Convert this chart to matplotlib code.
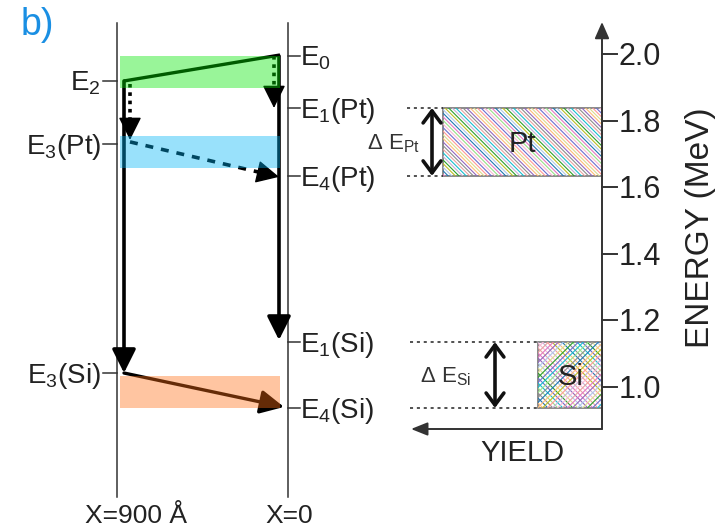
import matplotlib
matplotlib.use('Agg')
import matplotlib.pyplot as plt
from matplotlib.patches import Rectangle, FancyArrowPatch
import numpy as np

plt.rcParams['font.family'] = ['Liberation Sans', 'DejaVu Sans']
plt.rcParams['mathtext.fontset'] = 'custom'
plt.rcParams['mathtext.rm'] = 'Liberation Sans'
plt.rcParams['mathtext.it'] = 'Liberation Sans:italic'
plt.rcParams['mathtext.default'] = 'regular'

# ---------------- data (MeV) ----------------
energy_ticks = [1.0, 1.2, 1.4, 1.6, 1.8, 2.0]
tick_labels = ['1.0', '1.2', '1.4', '1.6', '1.8', '2.0']
E0 = 1.994
E2 = 1.919
E1_Pt = 1.838
E3_Pt = 1.730
E4_Pt = 1.634
E1_Si = 1.135
E3_Si = 1.042
E4_Si = 0.937
left_levels = [E2, E3_Pt, E3_Si]
left_names = ['E$_2$', 'E$_3$(Pt)', 'E$_3$(Si)']
right_levels = [E0, E1_Pt, E4_Pt, E1_Si, E4_Si]
right_names = ['E$_0$', 'E$_1$(Pt)', 'E$_4$(Pt)', 'E$_1$(Si)', 'E$_4$(Si)']
yield_pt = 1.0
yield_si = 0.40
band_green = (1.898, 1.994)
band_blue = (1.658, 1.754)
band_orange = (0.937, 1.033)

# ---------------- layout ----------------
W, H = 719, 529
PX = 1 / 333.0                     # MeV per pixel


def py(p):
    """pixel row -> energy (layout helper)"""
    return 2.0 - (p - 54) * PX


fig = plt.figure(figsize=(W / 100, H / 100), dpi=100)
ax = fig.add_axes([0, 0, 1, 1])
ax.set_xlim(0, W)
ax.set_ylim(py(H), py(0))
ax.axis('off')

XL, XR = 117, 288            # sample depth lines
XAX, YAXP = 602, 429         # energy / yield axes
YSCALE = 159                 # px per yield unit
FS = 20
lc = '#333333'

# vertical lines X=900 and X=0
for x in (XL, XR):
    ax.plot([x, x], [py(23), py(497)], color=lc, lw=1.1, zorder=2)

# ticks and labels on left diagram
for e, n in zip(left_levels, left_names):
    ax.plot([103, XL], [e, e], color=lc, lw=1.1)
    ax.text(101, e - 10 * PX, n, ha='right', va='baseline', fontsize=FS, color='#222222')
for e, n in zip(right_levels, right_names):
    ax.plot([XR, 300], [e, e], color=lc, lw=1.1)
    ax.text(300, e - 10 * PX, n, ha='left', va='baseline', fontsize=FS, color='#222222')


def arrow(x0, y0, x1, y1, color='black', lw=2.2, ms=24, hl=0.6, hw=0.3, z=3):
    a = FancyArrowPatch((x0, y0), (x1, y1),
                        arrowstyle=f'-|>,head_length={hl},head_width={hw}',
                        mutation_scale=ms, color=color, lw=lw,
                        shrinkA=0, shrinkB=0, zorder=z)
    ax.add_patch(a)


# green solid line E2 -> E0
ax.plot([124, 280], [E2, E0 + 1 * PX], color='black', lw=2.4, zorder=3, solid_capstyle='butt')
# thick vertical arrows
arrow(124, E2, 124, E3_Si, lw=2.6)
arrow(279, E0, 279, E1_Si + 2 * PX, lw=2.6)
# dotted arrows
ax.plot([274, 274], [E0, E1_Pt + 18 * PX], color='black', lw=2.6, ls=(0, (1.0, 1.3)), zorder=3)
arrow(274, E1_Pt + 20 * PX, 274, E1_Pt, lw=1)
ax.plot([130, 130], [E2 - 3 * PX, E3_Pt + 22 * PX], color='black', lw=2.6, ls=(0, (1.0, 1.3)), zorder=3)
arrow(130, E3_Pt + 24 * PX, 130, E3_Pt + 4 * PX, lw=1)
# dashed arrow E3(Pt) -> E4(Pt)
xs0, ys0, xs1, ys1 = 130, E3_Pt + 2 * PX, 279, E4_Pt - 1 * PX
ax.plot([xs0, 262], [ys0, ys0 + (ys1 - ys0) * (262 - xs0) / (xs1 - xs0)],
        color='black', lw=2.6, ls=(0, (2.2, 2.2)), zorder=3)
arrow(258, ys0 + (ys1 - ys0) * (258 - xs0) / (xs1 - xs0), xs1, ys1, lw=1)
# brown arrow E3(Si) -> E4(Si)
arrow(124, E3_Si, 284, E4_Si + 1 * PX, lw=2.4)

# translucent bands (drawn over the arrows)
for (lo, hi), c in [(band_green, '#00e600'), (band_blue, '#00b4f5'), (band_orange, '#ff6e14')]:
    ax.add_patch(Rectangle((120, lo), 160, hi - lo, facecolor=c, alpha=0.4,
                           edgecolor='none', zorder=4))

# ---------------- spectrum side ----------------
hatch_cols = ['#e377c2', '#bcbd22', '#17becf', '#9467bd', '#ff9896', '#98df8a',
              '#aec7e8', '#c5b0d5', '#8c8c8c', '#dbdb8d', '#f7b6d2', '#1f77b4',
              '#2ca02c', '#e8a0a0', '#ffbb78', '#6b6ecf']


def hatched_box(yv, elo, ehi, step, cross):
    x0 = XAX - yv * YSCALE
    r = Rectangle((x0, elo), XAX - x0, ehi - elo, facecolor='white',
                  edgecolor='#777777', lw=1.2, zorder=2)
    ax.add_patch(r)
    ptop = 54 + (2.0 - ehi) / PX
    pbot = 54 + (2.0 - elo) / PX
    xx = np.array([x0 - 100, XAX + 100])
    dirs = [1, -1] if cross else [1]
    i = 0
    for d in dirs:
        if d == 1:
            ks = np.arange(ptop - XAX - 5, pbot - x0 + 5, step)
        else:
            ks = np.arange(ptop + x0 - 5, pbot + XAX + 5, step)
        for k in ks:
            yy = d * xx + k
            ln, = ax.plot(xx, py(yy), color=hatch_cols[i % len(hatch_cols)], lw=0.8, zorder=2.5)
            ln.set_clip_path(r)
            i += 3 if cross else 5
    return x0


xpt = hatched_box(yield_pt, E4_Pt, E1_Pt, 3.6, False)
xsi = hatched_box(yield_si, E4_Si, E1_Si, 5.0, True)
ax.text((xpt + XAX) / 2, E4_Pt + (E1_Pt - E4_Pt) / 2 - 10 * PX, 'Pt', ha='center',
        va='baseline', fontsize=FS + 1, color='#222222', zorder=5)
ax.text((xsi + XAX) / 2, E4_Si + (E1_Si - E4_Si) / 2 - 10 * PX, 'Si', ha='center',
        va='baseline', fontsize=FS + 1, color='#222222', zorder=5)

# dotted guide lines
for e in (E1_Pt, E4_Pt):
    ax.plot([407, xpt], [e, e], color='#222222', lw=1.1, ls=(0, (2, 2.5)))
for e in (E1_Si, E4_Si):
    ax.plot([410, xsi], [e, e], color='#222222', lw=1.1, ls=(0, (2, 2.5)))

# delta-E double arrows
for x, lo, hi in [(432, E4_Pt, E1_Pt), (495, E4_Si, E1_Si)]:
    a = FancyArrowPatch((x, lo), (x, hi), arrowstyle='<->,head_length=0.43,head_width=0.32',
                        mutation_scale=20, color='#111111', lw=2.6, shrinkA=0, shrinkB=0, zorder=3)
    ax.add_patch(a)
ax.text(367, (E1_Pt + E4_Pt) / 2 - 7 * PX, r'$\Delta$ E$_{Pt}$', ha='left', va='baseline',
        fontsize=16, color='#333333')
ax.text(420, (E1_Si + E4_Si) / 2 - 7 * PX, r'$\Delta$ E$_{Si}$', ha='left', va='baseline',
        fontsize=16, color='#333333')

# energy axis with arrow, yield axis with arrow
ax.add_patch(FancyArrowPatch((XAX, py(YAXP)), (XAX, py(22)),
                             arrowstyle='-|>,head_length=0.5,head_width=0.22', mutation_scale=20,
                             color=lc, lw=1.4, shrinkA=0, shrinkB=0, zorder=3))
ax.add_patch(FancyArrowPatch((XAX, py(YAXP)), (411, py(YAXP)),
                             arrowstyle='-|>,head_length=0.5,head_width=0.2', mutation_scale=20,
                             color=lc, lw=1.4, shrinkA=0, shrinkB=0, zorder=3))
for e, t in zip(energy_ticks, tick_labels):
    ax.plot([XAX, 617], [e, e], color=lc, lw=1.4)
    ax.text(619, e - 11 * PX, t, ha='left', va='baseline', fontsize=FS + 2, color='#222222')

ax.text(522, py(453), 'YIELD', ha='center', va='center', fontsize=FS + 1, color='#222222')
ax.text(700, py(228), 'ENERGY (MeV)', ha='center', va='center', rotation=90,
        fontsize=FS + 4, color='#222222')

ax.text(85, py(523), 'X=900 Å', ha='left', va='baseline', fontsize=FS - 1, color='#222222')
ax.text(265, py(523), 'X=0', ha='left', va='baseline', fontsize=FS - 1, color='#222222')
ax.text(21, py(35), 'b)', ha='left', va='baseline', fontsize=27, color='#1a8fe3')

fig.savefig('out.png', dpi=100)
